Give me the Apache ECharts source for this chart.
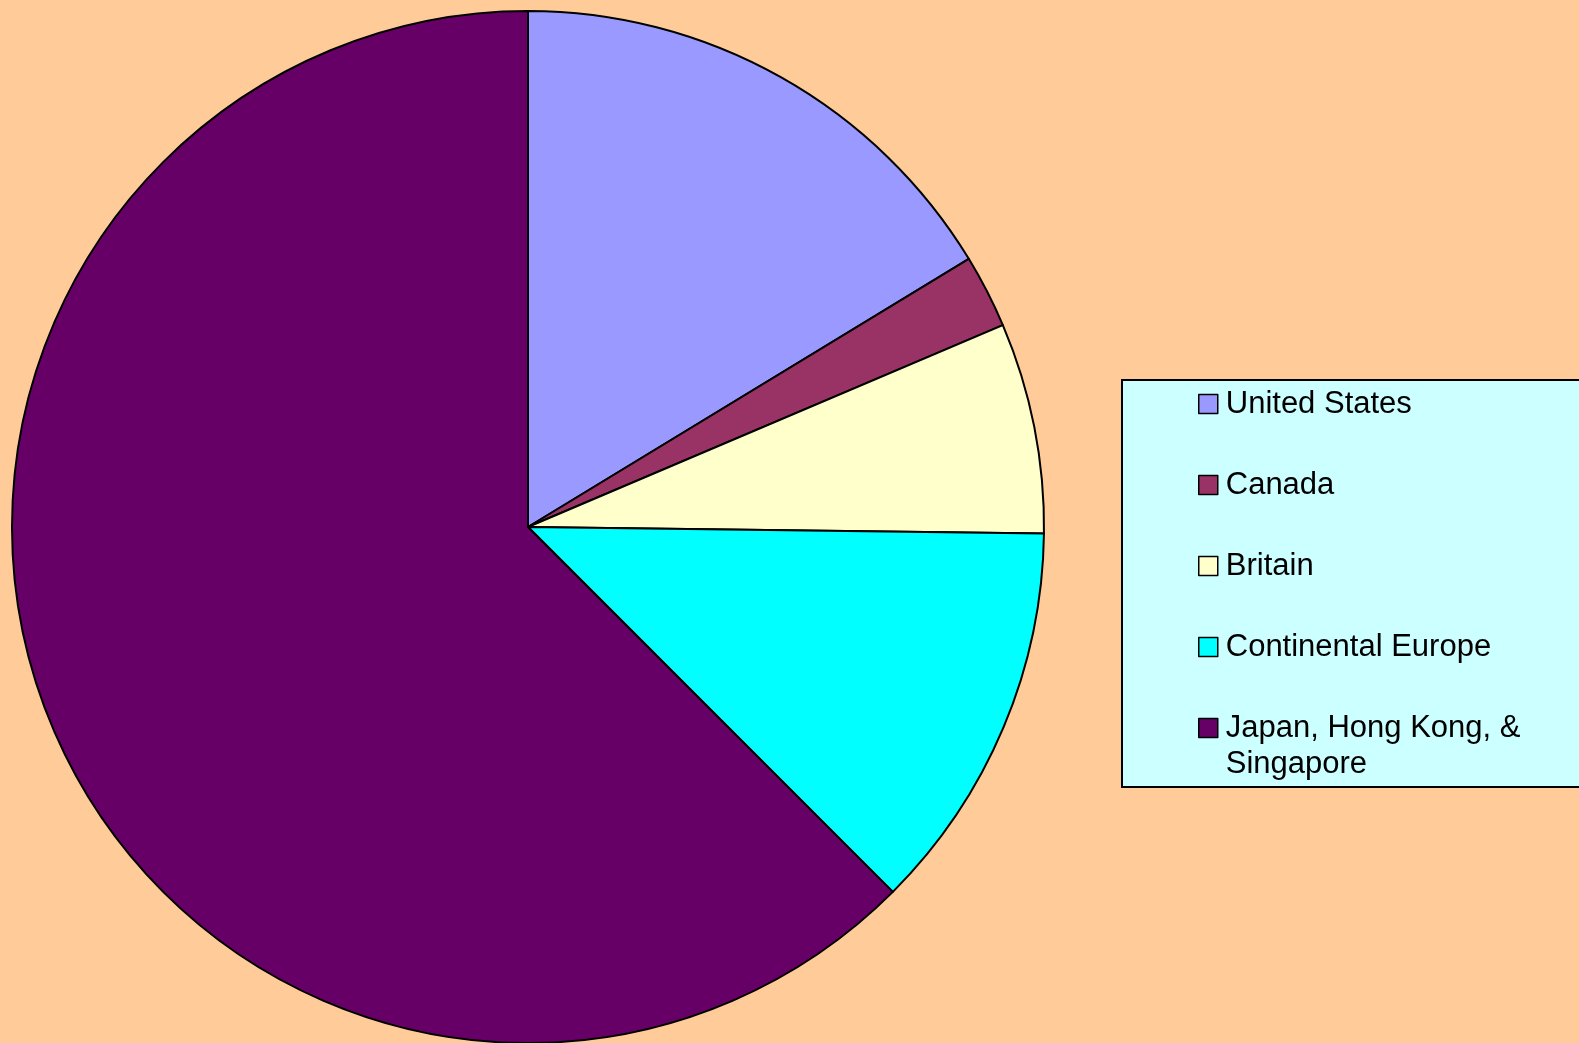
<!DOCTYPE html>
<html>
<head>
<meta charset="utf-8">
<title>Regional shares</title>
<script src="https://cdn.jsdelivr.net/npm/echarts@6/dist/echarts.min.js"></script>
<style>
  html, body { margin: 0; padding: 0; background: #FFCC99; }
  #chart { width: 1579px; height: 1043px; }
</style>
</head>
<body>
<div id="chart"></div>
<script>
// Regions and their share of the total (percent)
const regions = ['United States', 'Canada', 'Britain', 'Continental Europe', 'Japan, Hong Kong, & Singapore'];
const shares = [16.3, 2.3, 6.6, 12.3, 62.5];
const sliceColors = ['#9999FF', '#993366', '#FFFFCC', '#00FFFF', '#660066'];

const chart = echarts.init(document.getElementById('chart'), null, { renderer: 'canvas' });

const font = 'Liberation Sans, Arial, sans-serif';
const lineH = 36;

chart.setOption({
  backgroundColor: '#FFCC99',
  animation: false,
  graphic: [{
    type: 'rect',
    z: 1,
    shape: { x: 1122, y: 380, width: 600, height: 407 },
    style: { fill: '#CCFFFF', stroke: '#000000', lineWidth: 2 }
  }],
  legend: {
    orient: 'vertical',
    left: 1198,
    top: 350,
    padding: 0,
    itemGap: -27,
    itemWidth: 19,
    itemHeight: 19,
    icon: 'rect',
    selectedMode: false,
    data: regions,
    // each entry is three lines tall (blank line above) so the name line
    // sits level with its swatch and every row has the same height
    formatter: function (name) {
      return name.indexOf('& ') >= 0 ? ' \n' + name.replace('& ', '&\n') : ' \n' + name + '\n ';
    },
    itemStyle: { borderColor: '#000000', borderWidth: 1.5 },
    textStyle: {
      fontFamily: font,
      fontSize: 31,
      color: '#000000',
      lineHeight: lineH,
      padding: [0, 0, 0, 3]
    }
  },
  series: [{
    type: 'pie',
    center: [528, 527],
    radius: [0, 516],
    startAngle: 90,
    clockwise: true,
    avoidLabelOverlap: false,
    label: { show: false },
    labelLine: { show: false },
    emphasis: { disabled: true },
    itemStyle: { borderColor: '#000000', borderWidth: 2 },
    data: regions.map(function (name, i) {
      return { name: name, value: shares[i], itemStyle: { color: sliceColors[i] } };
    })
  }]
});
</script>
</body>
</html>
